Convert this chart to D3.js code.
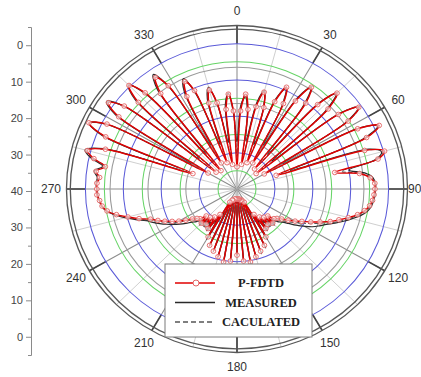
<!DOCTYPE html>
<html>
<head>
<meta charset="utf-8">
<script src="https://cdn.jsdelivr.net/npm/d3@7/dist/d3.min.js"></script>
<style>
  body { margin: 0; background: #fff; }
  .axis text { font-family: "Liberation Sans", Arial, sans-serif; font-size: 11px; fill: #444; }
  .axis path, .axis line { stroke: #8a8a8a; }
</style>
</head>
<body>
<div id="chart"></div>
<script>
// angle of each sample, degrees clockwise from the top
const angles = [
  0, 2.5, 5, 7.5, 10, 12.5, 15, 17.5, 20, 22.5, 25, 27.5, 30, 32.5, 35, 37.5, 40, 42.5, 45, 47.5,
  50, 52.5, 55, 57.5, 60, 62.5, 65, 67.5, 70, 72.5, 75, 77.5, 80, 82.5, 85, 87.5, 90, 92.5, 95, 97.5,
  100, 102.5, 105, 107.5, 110, 112.5, 115, 117.5, 120, 122.5, 125, 127.5, 130, 132.5, 135, 137.5, 140, 142.5, 145, 147.5,
  150, 152.5, 155, 157.5, 160, 162.5, 165, 167.5, 170, 172.5, 175, 177.5, 180, 182.5, 185, 187.5, 190, 192.5, 195, 197.5,
  200, 202.5, 205, 207.5, 210, 212.5, 215, 217.5, 220, 222.5, 225, 227.5, 230, 232.5, 235, 237.5, 240, 242.5, 245, 247.5,
  250, 252.5, 255, 257.5, 260, 262.5, 265, 267.5, 270, 272.5, 275, 277.5, 280, 282.5, 285, 287.5, 290, 292.5, 295, 297.5,
  300, 302.5, 305, 307.5, 310, 312.5, 315, 317.5, 320, 322.5, 325, 327.5, 330, 332.5, 335, 337.5, 340, 342.5, 345, 347.5,
  350, 352.5, 355, 357.5
];

// attenuation in dB (0 on the outer blue ring, 40 in the centre)
const pfdtd = [
  33.9, 18.5, 13.8, 17.9, 33.1, 16.8, 12.4, 16.5, 32.3, 14.0, 9.1, 13.5, 31.7, 11.3, 5.8, 10.2, 32.8, 8.5, 2.7, 7.4,
  33.4, 6.3, 0.8, 5.2, 31.7, 4.1, -1.4, 3.0, 29.0, 4.7, -0.3, 1.9, 13.8, 7.4, 4.7, 3.6, 3.6, 3.8, 4.1, 4.7,
  5.8, 7.4, 9.6, 11.8, 13.8, 16.3, 18.5, 20.7, 22.3, 24.0, 25.6, 26.7, 27.3, 29.0, 26.7, 29.5, 27.3, 30.3, 26.7, 31.7,
  24.8, 35.9, 22.9, 36.7, 21.8, 36.7, 20.7, 37.2, 19.6, 37.2, 20.1, 37.2, 21.8, 37.2, 20.1, 37.2, 19.6, 37.2, 20.7, 36.7,
  21.8, 36.7, 22.9, 35.9, 24.8, 31.7, 26.7, 30.3, 27.3, 29.5, 26.7, 29.0, 27.3, 26.7, 25.6, 24.0, 22.3, 20.7, 19.0, 17.4,
  15.7, 12.9, 10.2, 7.4, 5.2, 4.1, 3.6, 3.0, 3.0, 3.0, 3.6, 2.5, 4.7, 1.3, -0.9, 3.6, 27.6, 2.5, -3.1, 1.3,
  31.2, 3.0, -1.4, 2.5, 32.8, 4.7, -0.3, 4.1, 33.4, 6.9, 2.5, 6.3, 31.7, 11.3, 7.4, 10.7, 32.3, 15.2, 11.8, 15.7,
  33.1, 17.9, 13.8, 18.5
];

const measured = [
  27.0, 17.0, 14.5, 19.0, 26.5, 15.5, 12.0, 17.0, 27.0, 13.0, 9.5, 14.5, 26.0, 10.0, 6.0, 11.5, 27.5, 7.5, 3.0, 8.5,
  28.0, 5.5, 1.0, 6.0, 26.0, 3.5, -1.0, 4.0, 25.0, 3.5, 0.5, 2.5, 10.0, 6.0, 4.0, 3.5, 3.5, 3.5, 3.8, 4.2,
  5.0, 6.5, 8.5, 10.5, 12.5, 14.5, 16.0, 17.5, 19.5, 21.5, 23.5, 25.0, 26.0, 27.5, 26.0, 28.0, 26.5, 29.0, 26.0, 30.0,
  24.0, 33.0, 22.0, 34.0, 21.0, 34.5, 20.0, 35.0, 19.0, 35.0, 20.5, 35.5, 22.0, 35.5, 20.5, 35.0, 19.5, 35.0, 20.5, 34.5,
  21.5, 34.0, 22.5, 33.0, 24.0, 30.0, 26.0, 28.5, 26.5, 28.0, 26.0, 27.5, 26.0, 25.0, 23.5, 22.0, 20.5, 19.0, 17.5, 16.0,
  14.5, 12.0, 9.5, 7.0, 5.0, 4.0, 3.5, 3.2, 3.0, 2.8, 3.0, 2.0, 4.0, 0.5, -1.5, 3.0, 24.0, 1.5, -3.0, 2.0,
  26.0, 2.0, -2.0, 3.0, 27.0, 3.5, -0.5, 5.0, 27.5, 5.5, 1.5, 7.0, 26.0, 10.0, 6.5, 11.5, 27.0, 14.0, 11.0, 16.5,
  27.0, 16.5, 13.5, 19.0
];

const calculated = [
  31.0, 18.0, 13.5, 18.5, 31.0, 16.5, 12.0, 17.0, 30.5, 13.5, 9.0, 14.0, 30.0, 11.0, 5.5, 10.5, 31.0, 8.0, 2.5, 7.5,
  31.5, 6.0, 0.5, 5.5, 30.0, 4.0, -1.2, 3.2, 27.5, 4.2, 0.0, 2.2, 12.0, 7.0, 4.5, 3.4, 3.4, 3.6, 4.0, 4.5,
  5.5, 7.0, 9.0, 11.0, 13.0, 15.5, 17.5, 19.5, 21.5, 23.0, 24.5, 26.0, 27.0, 28.5, 26.5, 29.0, 27.0, 30.0, 26.5, 31.0,
  24.5, 35.0, 22.5, 36.0, 21.5, 36.0, 20.5, 36.5, 19.5, 36.5, 20.0, 36.5, 21.5, 36.5, 20.0, 36.5, 19.5, 36.5, 20.5, 36.0,
  21.5, 36.0, 22.5, 35.0, 24.5, 31.0, 26.5, 30.0, 27.0, 29.0, 26.5, 28.5, 27.0, 26.0, 25.0, 23.5, 21.5, 20.0, 18.5, 17.0,
  15.0, 12.5, 10.0, 7.2, 5.0, 4.0, 3.5, 3.0, 2.9, 2.9, 3.4, 2.3, 4.5, 1.0, -1.2, 3.4, 26.0, 2.0, -3.0, 1.5,
  29.5, 2.8, -1.6, 2.7, 31.0, 4.3, -0.5, 4.5, 31.5, 6.5, 2.0, 6.7, 30.0, 10.8, 7.0, 11.0, 30.5, 14.8, 11.5, 16.0,
  31.0, 17.5, 13.5, 18.8
];

const angleLabels = [0, 30, 60, 90, 120, 150, 180, 210, 240, 270, 300, 330];
const blueRings = [0, 10, 20, 30];
const greenRings = [5, 15, 25, 35];
const grayRings = [6.5, 16.5, 26.5];
const rimRings = [-5, -4];
const majorTicks = [0, 10, 20, 30, 40, 50, 60, 70, 80];
const minorTicks = [-5, 5, 15, 25, 35, 45, 55, 65, 75, 85];
const legendNames = ['P-FDTD', 'MEASURED', 'CACULATED'];

const width = 421, height = 377;
const cx = 237, cy = 189, stretch = 1.043;
const rad = a => a * Math.PI / 180;

const r = d3.scaleLinear().domain([40, -5]).range([0, 163.5]);

const svg = d3.select('#chart').append('svg')
  .attr('width', width)
  .attr('height', height)
  .style('font-family', '"Liberation Sans", Arial, sans-serif');

// polar area is slightly wider than tall in the original
const g = svg.append('g')
  .attr('transform', 'translate(' + cx + ',' + cy + ') scale(' + stretch + ',1)');

// spokes
const spokes = d3.range(0, 360, 15);
g.append('g').selectAll('line')
  .data(spokes)
  .join('line')
  .attr('x1', 0).attr('y1', 0)
  .attr('x2', a => r(-5) * Math.sin(rad(a)))
  .attr('y2', a => -r(-5) * Math.cos(rad(a)))
  .attr('stroke', a => a % 30 === 0 ? '#8c8c8c' : '#c4c4c4')
  .attr('stroke-width', a => a % 30 === 0 ? 1 : 0.8);

// dark tick segments across the outer band
g.append('g').selectAll('line')
  .data(angleLabels)
  .join('line')
  .attr('x1', a => r(0) * Math.sin(rad(a)))
  .attr('y1', a => -r(0) * Math.cos(rad(a)))
  .attr('x2', a => r(-5) * Math.sin(rad(a)))
  .attr('y2', a => -r(-5) * Math.cos(rad(a)))
  .attr('stroke', '#444')
  .attr('stroke-width', 1.6);

function rings(vals, color, w) {
  g.append('g').selectAll('circle')
    .data(vals)
    .join('circle')
    .attr('r', d => r(d))
    .attr('fill', 'none')
    .attr('stroke', color)
    .attr('stroke-width', w);
}
rings(grayRings, '#9a9a9a', 1);
rings(greenRings, '#66d466', 1);
rings(blueRings, '#5a5ad8', 1);
rings(rimRings, '#585858', 1.3);

// data lines
const line = d3.lineRadial()
  .angle((d, i) => rad(angles[i]))
  .radius(d => r(d))
  .curve(d3.curveCatmullRomClosed.alpha(0.5));

g.append('path').datum(measured)
  .attr('d', line)
  .attr('fill', 'none')
  .attr('stroke', '#2a2a2a')
  .attr('stroke-width', 1.2);

g.append('path').datum(calculated)
  .attr('d', line)
  .attr('fill', 'none')
  .attr('stroke', '#555')
  .attr('stroke-width', 1.1)
  .attr('stroke-dasharray', '4,2');

g.append('path').datum(pfdtd)
  .attr('d', line)
  .attr('fill', 'none')
  .attr('stroke', '#e00000')
  .attr('stroke-width', 1.4);

g.append('g').selectAll('circle')
  .data(pfdtd)
  .join('circle')
  .attr('cx', (d, i) => r(d) * Math.sin(rad(angles[i])))
  .attr('cy', (d, i) => -r(d) * Math.cos(rad(angles[i])))
  .attr('r', 2.3)
  .attr('fill', '#fff')
  .attr('fill-opacity', 0.6)
  .attr('stroke', '#e46464')
  .attr('stroke-width', 0.9);

// angle labels; the 90 label hugs the right edge outside the rim
svg.append('g').selectAll('text')
  .data(angleLabels)
  .join('text')
  .attr('x', a => a === 90 ? 408 : cx + 186 * Math.sin(rad(a)))
  .attr('y', a => cy - 178 * Math.cos(rad(a)))
  .attr('dy', '0.35em')
  .attr('text-anchor', a => a === 90 ? 'start' : 'middle')
  .attr('font-size', 12)
  .attr('fill', '#333')
  .text(a => a);

// left radial axis, mirrored about the centre
const y = d3.scaleLinear().domain([-5, 85]).range([27, 355]);
svg.append('g').attr('class', 'axis')
  .attr('transform', 'translate(31,0)')
  .call(d3.axisLeft(y).tickValues(majorTicks).tickSize(5).tickSizeOuter(0)
    .tickFormat(v => v <= 40 ? v : 80 - v));
svg.append('g').attr('class', 'axis')
  .attr('transform', 'translate(31,0)')
  .call(d3.axisLeft(y).tickValues(minorTicks).tickSize(3).tickSizeOuter(0).tickFormat(''));

// legend
const lg = svg.append('g');
lg.append('rect')
  .attr('x', 165).attr('y', 264)
  .attr('width', 147).attr('height', 73)
  .attr('fill', '#fff')
  .attr('stroke', '#7a7a7a');

const rows = lg.selectAll('g.row')
  .data(legendNames)
  .join('g')
  .attr('transform', (d, i) => 'translate(0,' + [283, 302.5, 322][i] + ')');

rows.append('line')
  .attr('x1', 175).attr('x2', 215)
  .attr('stroke', (d, i) => ['#e00000', '#2a2a2a', '#555'][i])
  .attr('stroke-width', 1.4)
  .attr('stroke-dasharray', (d, i) => i === 2 ? '5,3' : null);

rows.filter((d, i) => i === 0).append('circle')
  .attr('cx', 196).attr('r', 3)
  .attr('fill', '#fff')
  .attr('stroke', '#e46464');

rows.append('text')
  .attr('x', 261)
  .attr('dy', '0.35em')
  .attr('text-anchor', 'middle')
  .attr('font-family', '"Liberation Serif", "Times New Roman", serif')
  .attr('font-weight', 'bold')
  .attr('font-size', 12.5)
  .attr('fill', '#222')
  .text(d => d);
</script>
</body>
</html>
